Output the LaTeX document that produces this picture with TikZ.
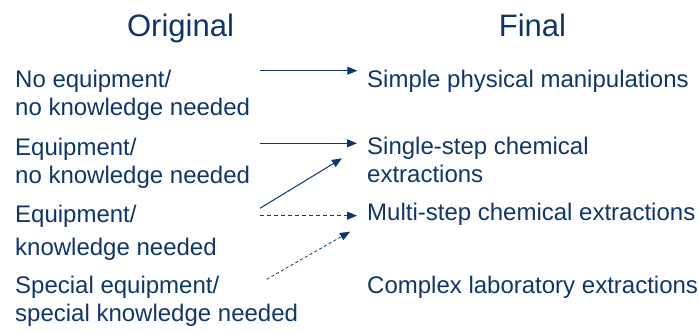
\documentclass[tikz,border=0pt]{standalone}
\usepackage{fontspec}
\setmainfont{Liberation Sans}
\usetikzlibrary{arrows.meta}
\definecolor{navy}{HTML}{103668}
\tikzset{
  body/.style={anchor=base west, inner sep=0pt, align=left, text=navy,
    font=\fontsize{24}{28}\selectfont},
  title/.style={anchor=base, inner sep=0pt, text=navy,
    font=\fontsize{31}{36}\selectfont},
  conn/.style={draw=navy, line width=1pt, -{Triangle[length=10pt,width=8pt]}},
  dashconn/.style={conn, dash pattern=on 4pt off 3pt},
  dotconn/.style={conn, line width=0.8pt, dash pattern=on 3pt off 2.5pt}
}
\begin{document}
\begin{tikzpicture}[x=1pt,y=-1pt]
\useasboundingbox (0,0) rectangle (699,330);
\node[title] (orig) at (180.5,36.5) {Original};
\node[title] (fin) at (532.5,36.5) {Final};
% multi-line nodes: base anchor is the baseline of the last line
\node[body] (l1) at (15,115.7) {No equipment/\\no knowledge needed};
\node[body] (l2) at (15,183.3) {Equipment/\\no knowledge needed};
\node[body] (l3) at (15,255.7) {Equipment/\\[5.5pt]knowledge needed};
\node[body] (l4) at (15,321.7) {Special equipment/\\special knowledge needed};
\node[body] (r1) at (367,87.7) {Simple physical manipulations};
\node[body] (r2) at (367,182.5) {Single-step chemical\\extractions};
\node[body] (r3) at (367,220.5) {Multi-step chemical extractions};
\node[body] (r4) at (367,293.3) {Complex laboratory extractions};
\coordinate (a1s) at (260,70.7);  \coordinate (a1e) at (357.3,70.7);
\coordinate (a2s) at (260,143.3); \coordinate (a2e) at (357,143.3);
\coordinate (a3s) at (260,208.3); \coordinate (a3e) at (342,158.3);
\coordinate (a4s) at (260,215.7); \coordinate (a4e) at (357,215.7);
\coordinate (a5s) at (266.7,279.3); \coordinate (a5e) at (350,231.7);
\draw[conn] (a1s) -- (a1e);
\draw[conn] (a2s) -- (a2e);
\draw[conn] (a3s) -- (a3e);
\draw[dashconn] (a4s) -- (a4e);
\draw[dotconn] (a5s) -- (a5e);
\end{tikzpicture}
\end{document}
